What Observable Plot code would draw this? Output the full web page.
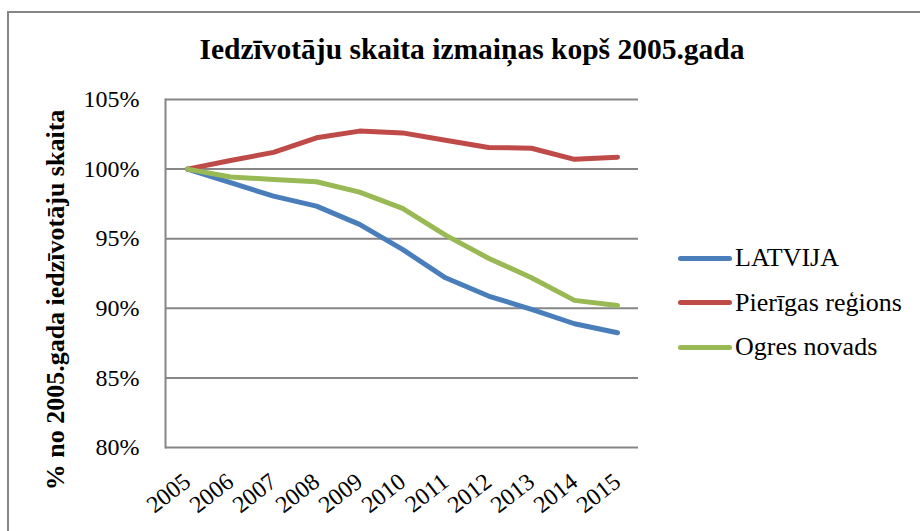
<!DOCTYPE html>
<html>
<head>
<meta charset="utf-8">
<script src="https://cdn.jsdelivr.net/npm/d3@7"></script>
<script src="https://cdn.jsdelivr.net/npm/@observablehq/plot@0.6"></script>
<style>
  html, body { margin: 0; padding: 0; background: #fff; overflow: hidden; }
  #wrap { position: relative; width: 920px; height: 531px; overflow: hidden; font-family: 'Liberation Serif', serif; }
  #border { position: absolute; left: 7px; top: 11px; width: 940px; height: 560px; border: 2.5px solid #868686; box-sizing: border-box; }
  #title { position: absolute; left: 0; width: 944px; top: 31px; text-align: center; font-weight: bold; font-size: 29.5px; line-height: 36px; color: #000; }
  #ylabel { position: absolute; left: 56px; top: 300px; transform: translate(-50%, -50%) rotate(-90deg); white-space: nowrap; font-weight: bold; font-size: 26px; color: #000; }
  #chart { position: absolute; left: 0; top: 0; }
  #legend { position: absolute; left: 678px; top: 236px; font-size: 26px; color: #000; }
  .item { display: flex; align-items: center; height: 44.5px; }
  .sw { width: 54px; height: 5px; border-radius: 3px; margin-right: 3px; }
  #chart text { font-family: 'Liberation Serif', serif; }
</style>
</head>
<body>
<div id="wrap">
  <div id="border"></div>
  <div id="title">Iedzīvotāju skaita izmaiņas kopš 2005.gada</div>
  <div id="ylabel">% no 2005.gada iedzīvotāju skaita</div>
  <div id="chart"></div>
  <div id="legend"></div>
</div>
<script>
const years = ["2005","2006","2007","2008","2009","2010","2011","2012","2013","2014","2015"];
const seriesNames = ["LATVIJA", "Pierīgas reģions", "Ogres novads"];
const latvija = [100, 99.02, 98.06, 97.34, 96.03, 94.23, 92.19, 90.88, 89.92, 88.89, 88.24];
const pieriga = [100, 100.62, 101.2, 102.25, 102.73, 102.6, 102.07, 101.55, 101.5, 100.7, 100.86];
const ogre    = [100, 99.43, 99.26, 99.09, 98.35, 97.18, 95.26, 93.6, 92.2, 90.57, 90.2];
const yTicks = [80, 85, 90, 95, 100, 105];
const colors = ["#4A7EBB", "#BE4B48", "#98B954"];

const valuesBySeries = [latvija, pieriga, ogre];
const data = [];
seriesNames.forEach((s, i) => years.forEach((y, j) => data.push({series: s, year: y, value: valuesBySeries[i][j]})));

const chart = Plot.plot({
  width: 920,
  height: 531,
  marginLeft: 165,
  marginRight: 282,
  marginTop: 99,
  marginBottom: 84,
  style: { fontFamily: "Liberation Serif, serif", color: "#000", background: "transparent" },
  x: { type: "point", domain: years, padding: 0.5 },
  y: { domain: [80, 105] },
  color: { domain: seriesNames, range: colors },
  marks: [
    Plot.ruleY(yTicks, { stroke: "#868686", strokeWidth: 2 }),
    Plot.frame({ anchor: "left", stroke: "#868686", strokeWidth: 2 }),
    Plot.axisY({ ticks: yTicks, tickFormat: d => d + "%", tickSize: 0, tickPadding: 26, label: null, fontSize: 24 }),
    Plot.axisX({ tickSize: 0, tickRotate: -38, tickPadding: 22, dy: 9, label: null, fontSize: 24 }),
    Plot.line(data, { x: "year", y: "value", z: "series", stroke: "series", strokeWidth: 5, strokeLinecap: "round", strokeLinejoin: "round" })
  ]
});
chart.querySelectorAll("text").forEach(t => t.setAttribute("font-family", "Liberation Serif, serif"));
document.getElementById("chart").appendChild(chart);

const legend = document.getElementById("legend");
seriesNames.forEach((s, i) => {
  const it = document.createElement("div");
  it.className = "item";
  const sw = document.createElement("span");
  sw.className = "sw";
  sw.style.background = colors[i];
  const t = document.createElement("span");
  t.textContent = s;
  it.appendChild(sw); it.appendChild(t);
  legend.appendChild(it);
});
</script>
</body>
</html>
